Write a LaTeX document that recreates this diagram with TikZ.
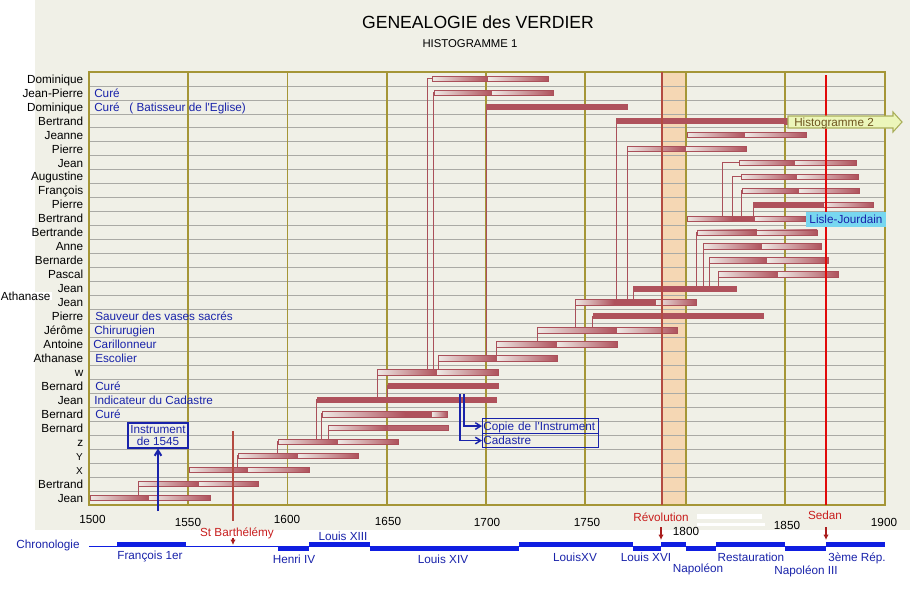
\documentclass[tikz,border=0pt]{standalone}
\usepackage{fontspec}
\setmainfont{Liberation Sans}
\usetikzlibrary{arrows.meta}
\definecolor{bg}{RGB}{240,240,231}
\definecolor{olivel}{RGB}{165,150,55}
\definecolor{gridc}{RGB}{170,170,165}
\definecolor{bardark}{RGB}{175,82,92}
\definecolor{barlight}{RGB}{238,233,229}
\definecolor{barline}{RGB}{170,80,90}
\definecolor{txtblue}{RGB}{25,35,170}
\definecolor{revred}{RGB}{180,75,65}
\definecolor{sedred}{RGB}{225,10,10}
\definecolor{bandc}{RGB}{245,215,180}
\definecolor{tlblue}{RGB}{15,30,225}
\definecolor{evred}{RGB}{200,30,30}
\definecolor{arrred}{RGB}{170,30,30}
\definecolor{arrowfill}{RGB}{236,246,186}
\definecolor{arrowline}{RGB}{170,175,90}
\definecolor{cyanbox}{RGB}{120,215,240}
\definecolor{histtxt}{RGB}{110,85,30}
\newcommand{\fs}{\fontsize{8.8}{10.5}\selectfont}
\newcommand{\gseg}[3]{\pgfmathsetmacro{\yy}{79+13.97*#1}%
  \shade[left color=barlight,right color=bardark] (#2,\yy-2.7) rectangle (#3,\yy+2.7);}
\newcommand{\lseg}[3]{\pgfmathsetmacro{\yy}{79+13.97*#1}%
  \shade[left color=barlight,middle color=barlight!80!bardark,right color=bardark] (#2,\yy-2.7) rectangle (#3,\yy+2.7);}
\newcommand{\dseg}[3]{\pgfmathsetmacro{\yy}{79+13.97*#1}%
  \fill[bardark] (#2,\yy-3) rectangle (#3,\yy+3);}
\newcommand{\frm}[3]{\pgfmathsetmacro{\yy}{79+13.97*#1}%
  \draw[barline,line width=0.7pt] (#2,\yy-2.7) rectangle (#3,\yy+2.7);}
\newcommand{\gbar}[4]{\gseg{#1}{#2}{#3}\lseg{#1}{#3}{#4}\frm{#1}{#2}{#4}}
\newcommand{\conn}[4]{\pgfmathsetmacro{\ya}{79+13.97*#2}\pgfmathsetmacro{\yb}{79+13.97*#3-0.5}%
  \draw[barline,line width=0.7pt] (#1,\ya) |- (#4,\yb);}
\begin{document}
\begin{tikzpicture}[x=0.75pt,y=-0.75pt,
  captext/.style={text height=6.3pt,text depth=0pt,inner sep=0pt,font=\fs},
  lbl/.style={captext,anchor=east},
  note/.style={captext,anchor=west,text=txtblue},
  yr/.style={captext},
  evt/.style={captext,text=evred},
  reign/.style={captext,text=txtblue},
  bluebox/.style={draw=txtblue,line width=0.8pt,text=txtblue,font=\fs},
  redarrow/.style={arrred,line width=1.1pt,-{Latex[length=4pt,width=4pt]}},
  bluearrow/.style={txtblue,line width=1.1pt,-{Straight Barb[length=4pt,width=5pt]}}]
\useasboundingbox (0,0) rectangle (910,589);
\fill[white] (0,0) rectangle (910,589);
\fill[bg] (35,0) rectangle (910,530);
% band
\fill[bandc] (663,72) rectangle (686,505);
% grid
\foreach \k in {1,...,30} \draw[gridc,line width=0.6pt] (89,{72+13.97*\k}) -- (885,{72+13.97*\k});
\foreach \xx in {188,287.5,387,486,585,686,785} \draw[olivel,line width=1.1pt] (\xx,72) -- (\xx,505);
\draw[olivel,line width=1.3pt] (89,72) rectangle (885,505);
% white artefacts
\fill[white] (697,514) rectangle (762,519);
\fill[white] (697,523) rectangle (765,526);
% connectors
\conn{427}{21}{0}{432}
\conn{433}{21}{1}{434}
\conn{486}{20}{2}{486}
\conn{616}{16}{3}{616}
\conn{627}{16}{5}{627}
\conn{722}{10}{6}{739}
\conn{732}{10}{7}{741}
\conn{741}{10}{8}{742}
\conn{753}{10}{9}{753}
\conn{696}{15}{11}{697}
\conn{703}{15}{12}{703}
\conn{709}{15}{13}{709}
\conn{718}{15}{14}{718}
\conn{633}{16}{15}{633}
\conn{575}{18}{16}{575}
\conn{592}{18}{17}{593}
\conn{537}{19}{18}{537}
\conn{496}{20}{19}{496}
\conn{438}{21}{20}{438}
\conn{377}{23}{21}{377}
\conn{387}{23}{22}{388}
\conn{316}{26}{23}{317}
\conn{321}{26}{24}{322}
\conn{328}{26}{25}{328}
\conn{277}{27}{26}{278}
\conn{237}{28}{27}{238}
\conn{138}{30}{29}{138}
% bars
\gbar{0}{432}{488}{548}
\gbar{1}{434}{492}{553}
\dseg{2}{486}{628}
\dseg{3}{616}{786}
\fill[bardark] (784,118) rectangle (790,124.5);
\gbar{4}{687}{745}{806}
\gbar{5}{627}{686}{746}
\gbar{6}{739}{795}{856}
\gbar{7}{741}{797}{858}
\gbar{8}{742}{799}{859}
\dseg{9}{753}{823}\lseg{9}{823}{873}\frm{9}{823}{873}
\gseg{10}{687}{733}\lseg{10}{755}{806}\frm{10}{687}{806}\dseg{10}{733}{755}
\gbar{11}{697}{757}{817}
\gbar{12}{703}{762}{821}
\gbar{13}{709}{767}{828}
\gbar{14}{718}{778}{838}
\dseg{15}{633}{737}
\gseg{16}{575}{614}\lseg{16}{656}{696}\frm{16}{575}{696}\dseg{16}{614}{656}
\dseg{17}{593}{764}
\gbar{18}{537}{617}{677}
\gbar{19}{496}{557}{617}
\gbar{20}{438}{497}{557}
\gbar{21}{377}{437}{498}
\dseg{22}{388}{499}
\dseg{23}{317}{497}
\gseg{24}{322}{405}\lseg{24}{432}{447}\frm{24}{322}{447}\dseg{24}{405}{432}
\gseg{25}{328}{388}\pgfmathsetmacro{\yy}{79+13.97*25}\fill[bardark!90!white] (388,\yy-2.7) rectangle (448,\yy+2.7);\frm{25}{328}{448}
\gbar{26}{278}{338}{398}
\gbar{27}{238}{298}{358}
\gbar{28}{189}{248}{309}
\gbar{29}{138}{199}{258}
\gbar{30}{90}{149}{210}
% event lines
\draw[revred,line width=1.1pt] (662,72) -- (662,505);
\draw[sedred,line width=1.2pt] (826,75) -- (826,505);
\draw[revred,line width=1pt] (233,431) -- (233,521);
% Histogramme 2 arrow
\draw[arrowline,fill=arrowfill,line width=0.8pt] (788,116) -- (893,116) -- (893,112) -- (902,122) -- (893,132) -- (893,128) -- (788,128) -- cycle;
\node[captext,anchor=west,text=histtxt] (h2) at (794,122) {Histogramme 2};
% Lisle-Jourdain
\node[captext,fill=cyanbox,text=txtblue,minimum width=60pt,minimum height=11.25pt] (lisle) at (846,219.5) {Lisle-Jourdain};
% title
\node[font=\fontsize{13.2}{15}\selectfont,inner sep=0pt] (title) at (478,22) {GENEALOGIE des VERDIER};
\node[font=\fontsize{8.5}{10}\selectfont,inner sep=0pt] (sub) at (470,44) {HISTOGRAMME 1};
% row labels
\foreach \n [count=\i from 0] in {Dominique,Jean-Pierre,Dominique,Bertrand,Jeanne,Pierre,Jean,Augustine,François,Pierre,Bertrand,Bertrande,Anne,Bernarde,Pascal,Jean,Jean,Pierre,Jérôme,Antoine,Athanase,w,Bernard,Jean,Bernard,Bernard,z}
  \node[lbl] (l\i) at (83.5,{79+13.97*\i}) {\n};
\node[lbl,font=\fontsize{7.5}{9}\selectfont] (l27) at (83,{79+13.97*27}) {Y};
\node[lbl,font=\fontsize{7.5}{9}\selectfont] (l28) at (83,{79+13.97*28}) {X};
\node[lbl] (l29) at (83.5,{79+13.97*29}) {Bertrand};
\node[lbl] (l30) at (83.5,{79+13.97*30}) {Jean};
\node[lbl,fill=white,inner xsep=1pt] (ath) at (52,296) {Athanase};
% notes
\node[note] (n1) at (94,{79+13.97*1}) {Curé};
\node[note] (n2) at (94,{79+13.97*2}) {Curé~~~( Batisseur de l\textquotesingle Eglise)};
\node[note] (n17) at (95,{79+13.97*17}) {Sauveur des vases sacrés};
\node[note] (n18) at (94,{79+13.97*18}) {Chirurugien};
\node[note] (n19) at (93,{79+13.97*19}) {Carillonneur};
\node[note] (n20) at (95,{79+13.97*20}) {Escolier};
\node[note] (n22) at (95,{79+13.97*22}) {Curé};
\node[note] (n23) at (94,{79+13.97*23}) {Indicateur du Cadastre};
\node[note] (n24) at (95,{79+13.97*24}) {Curé};
% instrument
\node[bluebox,align=center,font=\fontsize{8.8}{9}\selectfont,minimum width=45pt,minimum height=18.75pt,inner sep=0pt] (instr) at (158,435.5) {Instrument\\de 1545};
\coordinate (instrfoot) at (158,511);
\draw[bluearrow,line width=1.5pt] (instrfoot) -- (instr.south);
\node[bluebox,anchor=north west,minimum height=11.25pt,text width=85.5pt,inner xsep=0.7pt,inner ysep=0pt,align=left,text height=6.3pt,text depth=0pt] (copie) at (482,418) {Copie de l\textquotesingle Instrument};
\node[bluebox,anchor=north west,minimum height=10.5pt,text width=85.5pt,inner xsep=0.7pt,inner ysep=0pt,align=left,text height=6.3pt,text depth=0pt] (cad) at (482,433) {Cadastre};
\coordinate (cpA) at (464,394);
\coordinate (cpB) at (460,394);
\draw[bluearrow] (cpA) |- (copie.west);
\draw[bluearrow] (cpB) |- (cad.west);
% years
\node[yr] (y1500) at (92.5,519) {1500};
\node[yr] (y1550) at (188,522) {1550};
\node[yr] (y1600) at (287,519) {1600};
\node[yr] (y1650) at (388,521) {1650};
\node[yr] (y1700) at (487,522) {1700};
\node[yr] (y1750) at (587,522) {1750};
\node[yr] (y1800) at (686,531) {1800};
\node[yr] (y1850) at (787,525) {1850};
\node[yr] (y1900) at (884,522) {1900};
% events
\node[evt] (barth) at (237,532) {St Barthélémy};
\node[evt] (revo) at (661,517) {Révolution};
\node[evt] (sedan) at (825,515) {Sedan};
\coordinate (tBarth) at (233,545);
\coordinate (tRevo) at (661,540);
\coordinate (tSedan) at (826,540);
\draw[redarrow,line width=0.9pt] (233,538) -- (tBarth);
\draw[redarrow] (661,527) -- (tRevo);
\draw[redarrow] (826,527) -- (tSedan);
% timeline
\node[captext,text=txtblue] (chrono) at (48,544) {Chronologie};
\draw[tlblue,line width=1.1pt] (89,546.5) -- (885,546.5);
\foreach \a/\b in {117/186,309/370,519/633,661/686,716/785,826/885} \fill[tlblue] (\a,541.5) rectangle (\b,546.5);
\foreach \a/\b in {278/309,370/519,633/661,686/716,785/826} \fill[tlblue] (\a,546) rectangle (\b,550.5);
\node[reign] (r1) at (150,555) {François 1er};
\node[reign] (r2) at (294,559) {Henri IV};
\node[reign] (r3) at (343,536) {Louis XIII};
\node[reign] (r4) at (443,559) {Louis XIV};
\node[reign] (r5) at (575,557) {LouisXV};
\node[reign] (r6) at (646,557) {Louis XVI};
\node[reign] (r7) at (698,568) {Napoléon};
\node[reign] (r8) at (751,557) {Restauration};
\node[reign] (r9) at (806,570) {Napoléon III};
\node[reign] (r10) at (857,557) {3ème Rép.};
\end{tikzpicture}
\end{document}
